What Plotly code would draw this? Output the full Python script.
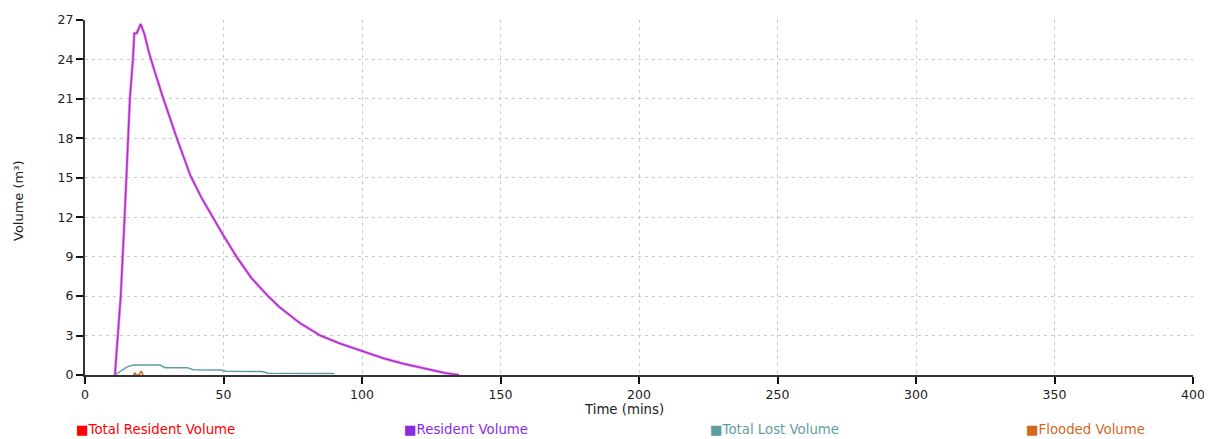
import plotly.graph_objects as go

# Resident volume (m3) over time (mins)
res_t = [10.8, 12.9, 14.3, 15.4, 16.2, 17.3, 17.8, 18.7, 20.1, 21.5, 23.0, 24.7, 28.0, 33.0, 38.0,
         42.0, 46.0, 50, 55, 60, 65.6, 70, 77.6, 85, 92, 100, 108, 115, 120, 125, 130, 135]
res_v = [0, 6, 12, 18, 21, 24, 26.0, 26.0, 26.7, 25.9, 24.6, 23.4, 21.2, 18.1, 15.2,
         13.5, 12.0, 10.6, 8.9, 7.4, 6.1, 5.2, 3.95, 3.0, 2.4, 1.8, 1.25, 0.85, 0.6, 0.35, 0.15, 0.0]

# Total lost volume
lost_t = [10.8, 13, 15, 17.3, 27, 29, 37, 39, 49, 51, 64, 66, 90]
lost_v = [0, 0.3, 0.6, 0.76, 0.76, 0.56, 0.56, 0.4, 0.38, 0.28, 0.26, 0.13, 0.12]

# Flooded volume
fl_t = [17.5, 18.0, 18.5, 19.5, 20.3, 21.0]
fl_v = [0, 0.15, 0, 0, 0.3, 0]

legend_names = ["Total Resident Volume", "Resident Volume", "Total Lost Volume", "Flooded Volume"]
legend_colors = ["#ff0000", "#8a2be2", "#5f9ea0", "#d2691e"]
legend_x = [74, 402, 708, 1024]

x_ticks = [0, 50, 100, 150, 200, 250, 300, 350, 400]
y_ticks = [0, 3, 6, 9, 12, 15, 18, 21, 24, 27]

fig = go.Figure()
fig.add_trace(go.Scatter(x=res_t, y=res_v, mode="lines", name=legend_names[0],
                         line=dict(color="rgba(240,40,150,0.45)", width=3), showlegend=False))
fig.add_trace(go.Scatter(x=res_t, y=res_v, mode="lines", name=legend_names[1],
                         line=dict(color="#a030e0", width=1.5), showlegend=False))
fig.add_trace(go.Scatter(x=lost_t, y=lost_v, mode="lines", name=legend_names[2],
                         line=dict(color=legend_colors[2], width=1.5), showlegend=False))
fig.add_trace(go.Scatter(x=fl_t, y=fl_v, mode="lines", name=legend_names[3],
                         line=dict(color=legend_colors[3], width=1.5), showlegend=False))

# page body has an 8px margin: compensate so the plot lands where the reference has it
OFF = 8
W, H = 1212 - OFF, 439 - OFF
L, R, T, B = 85 - OFF, 19, 20 - OFF, 64
PW, PH = W - L - R, H - T - B


def to_paper(px, py):
    return (px - OFF - L) / PW, 1 - (py - OFF - T) / PH


anns = []
for name, col, px in zip(legend_names, legend_colors, legend_x):
    x, y = to_paper(px, 429)
    anns.append(dict(x=x, y=y, xref="paper", yref="paper",
                     xanchor="left", yanchor="middle", showarrow=False,
                     text="■" + name, font=dict(family="DejaVu Sans", size=13.3, color=col)))
x, y = to_paper(624, 409)
anns.append(dict(x=x, y=y, xref="paper", yref="paper", xanchor="center",
                 yanchor="middle", showarrow=False, text="Time (mins)",
                 font=dict(family="DejaVu Sans", size=13.3, color="#222")))
x, y = to_paper(18, 201)
anns.append(dict(x=x, y=y, xref="paper", yref="paper", xanchor="center",
                 yanchor="middle", showarrow=False, text="Volume (m³)", textangle=-90,
                 font=dict(family="DejaVu Sans", size=13, color="#222")))

fig.update_layout(
    width=W, height=H,
    margin=dict(l=L, r=R, t=T, b=B, autoexpand=False),
    plot_bgcolor="white", paper_bgcolor="white",
    font=dict(family="DejaVu Sans", size=12, color="#222"),
    annotations=anns,
    showlegend=False,
)
fig.update_xaxes(range=[0, 400], tickvals=x_ticks, ticktext=[str(v) for v in x_ticks],
                 showline=True, linecolor="#333", linewidth=2, ticks="outside", ticklen=7,
                 tickwidth=2, tickcolor="#111", showgrid=True, gridcolor="#c8c8c8",
                 griddash="3px,4px", gridwidth=1.3, zeroline=False, automargin=False,
                 tickfont=dict(size=12.5, color="#222"))
fig.update_yaxes(range=[0, 27], tickvals=y_ticks, ticktext=[str(v) for v in y_ticks],
                 showline=True, linecolor="#333", linewidth=2, ticks="outside", ticklen=7,
                 tickwidth=2, tickcolor="#111", showgrid=True, gridcolor="#c8c8c8",
                 griddash="3px,4px", gridwidth=1.3, zeroline=False, automargin=False,
                 tickfont=dict(size=12.5, color="#222"))

fig.write_html("out.html")
